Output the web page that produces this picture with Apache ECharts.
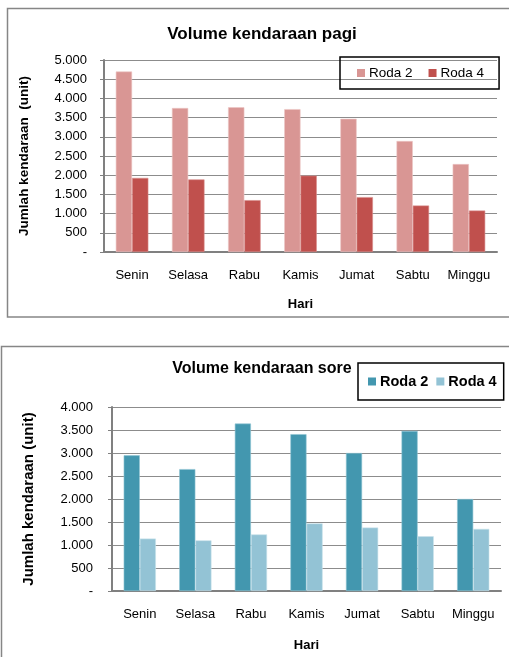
<!DOCTYPE html>
<html><head><meta charset="utf-8">
<script src="https://cdn.jsdelivr.net/npm/echarts@6/dist/echarts.min.js"></script>
<style>
html,body{margin:0;padding:0;background:#fff;width:509px;height:657px;overflow:hidden;}
#c1{position:absolute;left:0;top:0;width:509px;height:330px;}
#c2{position:absolute;left:0;top:330px;width:509px;height:327px;}
</style></head>
<body>
<div id="c1"></div><div id="c2"></div>
<script>
const categories = ['Senin','Selasa','Rabu','Kamis','Jumat','Sabtu','Minggu'];
const seriesNames = ['Roda 2','Roda 4'];
const pagiRoda2 = [4700,3750,3770,3720,3470,2890,2290];
const pagiRoda4 = [1930,1890,1350,1990,1430,1210,1080];
const soreRoda2 = [2950,2650,3640,3410,3000,3480,2000];
const soreRoda4 = [1140,1100,1230,1470,1380,1190,1350];
const pagiTitle = 'Volume kendaraan pagi';
const soreTitle = 'Volume kendaraan sore';
const pagiYName = 'Jumlah kendaraan  (unit)';
const soreYName = 'Jumlah kendaraan (unit)';
const xName = 'Hari';
const pagiMax = 5000, soreMax = 4000, tickStep = 500;

const FONT = '"Liberation Sans", Arial, sans-serif';
function fmt(v){
  if (v === 0) return '-';
  return String(v).replace(/\B(?=(\d{3})+(?!\d))/g, '.');
}
function build(o){
  return {
    animation:false,
    textStyle:{fontFamily:FONT},
    graphic:[{type:'rect', shape:o.frame, style:{fill:'none', stroke:'#868686', lineWidth:1.5}, z:-1}],
    title:{text:o.title, left:o.titleX, top:o.titleY, textAlign:'center',
      textStyle:{fontFamily:FONT, fontWeight:'bold', fontSize:o.titleSize, color:'#000'}},
    legend:{data:seriesNames, left:o.legLeft, top:o.legTop, padding:o.legPad, orient:'horizontal', width:200,
      itemWidth:8, itemHeight:8, itemGap:o.legGap, icon:'rect', itemStyle:{borderWidth:0},
      borderColor:'#000', borderWidth:1.5, borderRadius:0,
      textStyle:{fontFamily:FONT, fontSize:o.legSize, fontWeight:o.legWeight, color:'#000', padding:[0,0,0,-1]}},
    grid:o.grid,
    xAxis:{type:'category', data:categories, name:xName, nameLocation:'middle', nameGap:o.xGap,
      nameTextStyle:{fontFamily:FONT, fontWeight:'bold', fontSize:13, color:'#000'},
      axisLine:{lineStyle:{color:'#808080', width:2}}, axisTick:{show:false},
      axisLabel:{fontFamily:FONT, fontSize:13, color:'#000', margin:17}},
    yAxis:{type:'value', min:0, max:o.max, interval:tickStep, name:o.yName, nameLocation:'middle', nameGap:o.yGap,
      nameTextStyle:{fontFamily:FONT, fontWeight:'bold', fontSize:o.yNameSize, color:'#000'},
      axisLine:{show:true, lineStyle:{color:'#808080', width:2}},
      axisTick:{show:true, length:4, lineStyle:{color:'#808080'}},
      splitLine:{lineStyle:{color:'#8c8c8c', width:1}},
      axisLabel:{fontFamily:FONT, fontSize:13, color:'#000', margin:o.yMargin, formatter:fmt}},
    series:[
      {name:seriesNames[0], type:'bar', data:o.d1, barGap:'0%', barCategoryGap:'42%',
        itemStyle:{color:o.c1, borderColor:o.b1, borderWidth:0.6}},
      {name:seriesNames[1], type:'bar', data:o.d2, barGap:'0%', barCategoryGap:'42%',
        itemStyle:{color:o.c2, borderColor:o.b2, borderWidth:0.6}}
    ]
  };
}
const ch1 = echarts.init(document.getElementById('c1'));
ch1.setOption(build({
  frame:{x:7.5,y:8.5,width:520,height:308.5},
  title:pagiTitle, titleX:257, titleY:21, titleSize:17,
  legLeft:340, legTop:57, legPad:[9,15,9,17], legGap:16, legSize:13.5, legWeight:'normal',
  grid:{left:104, top:60, right:12, bottom:78}, xGap:46,
  max:pagiMax, yName:pagiYName, yGap:73, yNameSize:13.5, yMargin:17,
  d1:pagiRoda2, d2:pagiRoda4, c1:'#D99694', c2:'#C0504D', b1:'#ecc6c5', b2:'#d98d8b'
}));
const ch2 = echarts.init(document.getElementById('c2'));
ch2.setOption(build({
  frame:{x:1.5,y:16.5,width:520,height:330},
  title:soreTitle, titleX:257, titleY:26, titleSize:16,
  legLeft:358, legTop:33, legPad:[11,7,11,10], legGap:8, legSize:14.5, legWeight:'bold',
  grid:{left:112, top:77, right:8, bottom:63}, xGap:48,
  max:soreMax, yName:soreYName, yGap:76, yNameSize:15, yMargin:19,
  d1:soreRoda2, d2:soreRoda4, c1:'#4397AF', c2:'#93C3D5', b1:'#8ec4d3', b2:'#c9e2eb'
}));
</script>
</body></html>
